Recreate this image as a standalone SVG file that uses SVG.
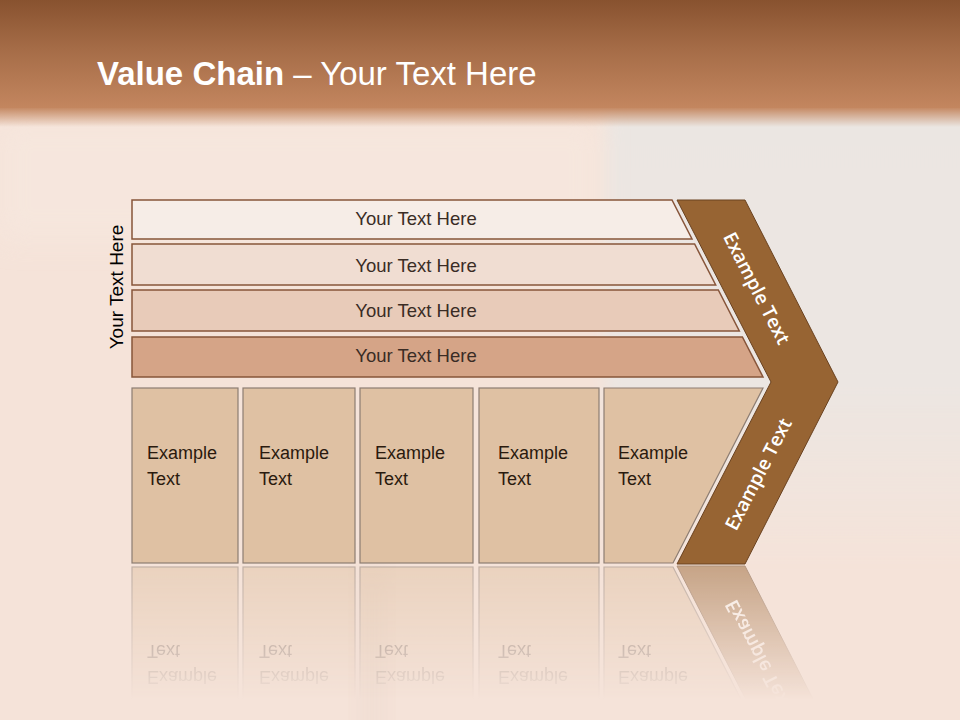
<svg xmlns="http://www.w3.org/2000/svg" width="960" height="720" viewBox="0 0 960 720">
  <defs>
    <linearGradient id="hdr" x1="0" y1="0" x2="0" y2="1">
      <stop offset="0" stop-color="#88522f"/>
      <stop offset="0.45" stop-color="#a56c47"/>
      <stop offset="1" stop-color="#c3865f"/>
    </linearGradient>
    <linearGradient id="hdrFade" x1="0" y1="0" x2="0" y2="1">
      <stop offset="0" stop-color="#c3865f" stop-opacity="1"/>
      <stop offset="1" stop-color="#c3865f" stop-opacity="0"/>
    </linearGradient>
    <linearGradient id="greyFade" x1="0" y1="0" x2="0" y2="1">
      <stop offset="0" stop-color="#ebe6e2" stop-opacity="1"/>
      <stop offset="0.6" stop-color="#ece6e2" stop-opacity="1"/>
      <stop offset="1" stop-color="#ece6e2" stop-opacity="0"/>
    </linearGradient>
    <linearGradient id="reflFade" gradientUnits="userSpaceOnUse" x1="0" y1="565" x2="0" y2="700">
      <stop offset="0" stop-color="#fff" stop-opacity="0.5"/>
      <stop offset="1" stop-color="#fff" stop-opacity="0"/>
    </linearGradient>
    <mask id="reflMask" maskUnits="userSpaceOnUse" x="0" y="560" width="960" height="160">
      <rect x="0" y="560" width="960" height="160" fill="url(#reflFade)"/>
    </mask>
    <filter id="blur8" x="-20%" y="-20%" width="140%" height="140%">
      <feGaussianBlur stdDeviation="8"/>
    </filter>
    <filter id="blur14" x="-50%" y="-50%" width="200%" height="200%">
      <feGaussianBlur stdDeviation="14"/>
    </filter>
    <style>
      .bar { stroke: #87553a; stroke-width: 1.5; }
      .barTxt { font-family: "Liberation Sans", Arial, sans-serif; font-size: 18.5px; fill: #3a2c25; text-anchor: middle; }
      .box { fill: #dfc1a3; stroke: #8d7d72; stroke-width: 1.2; }
      .boxTxt { font-family: "Liberation Sans", Arial, sans-serif; font-size: 18px; fill: #2a1a0e; }
      .chev { fill: #976433; stroke: #6a4220; stroke-width: 1; }
      .chevTxt { font-family: "Open Sans", "Liberation Sans", sans-serif; font-weight: 600; font-size: 19px; fill: #ffffff; text-anchor: middle; dominant-baseline: central; }
      .title { font-family: "Liberation Sans", Arial, sans-serif; font-size: 33px; fill: #ffffff; }
    </style>
  </defs>

  <!-- background -->
  <rect x="0" y="0" width="960" height="720" fill="#f5e3d9"/>
  <rect x="605" y="100" width="380" height="470" fill="url(#greyFade)" filter="url(#blur8)"/>
  <rect x="0" y="120" width="600" height="120" fill="#f7e9e0" opacity="0.6" filter="url(#blur14)"/>
  <rect x="360" y="560" width="24" height="200" fill="#d9c2b4" opacity="0.18" filter="url(#blur14)"/>

  <!-- header -->
  <rect x="0" y="0" width="960" height="108" fill="url(#hdr)"/>
  <rect x="0" y="107" width="960" height="20" fill="url(#hdrFade)"/>
  <text class="title" x="97" y="85"><tspan font-weight="bold">Value Chain</tspan> – Your Text Here</text>

  <!-- side label -->
  <text transform="translate(123,287) rotate(-90)" font-family="'Liberation Sans', Arial, sans-serif" font-size="19" fill="#000000" text-anchor="middle">Your Text Here</text>

  <g id="connectors"/>

  <!-- bars -->
  <g id="bar1">
    <polygon class="bar" fill="#f6ede7" points="132,200 672,200 692,239 132,239"/>
    <text class="barTxt" x="416" y="225">Your Text Here</text>
  </g>
  <g id="bar2">
    <polygon class="bar" fill="#f0ddd2" points="132,244 694.6,244 715.7,285 132,285"/>
    <text class="barTxt" x="416" y="272">Your Text Here</text>
  </g>
  <g id="bar3">
    <polygon class="bar" fill="#e8cbb9" points="132,290 718.3,290 739.3,331 132,331"/>
    <text class="barTxt" x="416" y="317">Your Text Here</text>
  </g>
  <g id="bar4">
    <polygon class="bar" fill="#d5a487" points="132,337 742.4,337 763,377 132,377"/>
    <text class="barTxt" x="416" y="362">Your Text Here</text>
  </g>

  <!-- boxes -->
  <g id="box1">
    <rect class="box" x="132" y="388" width="106" height="175"/>
    <text class="boxTxt" x="147" y="459">Example</text>
    <text class="boxTxt" x="147" y="485">Text</text>
  </g>
  <g id="box2">
    <rect class="box" x="243" y="388" width="112" height="175"/>
    <text class="boxTxt" x="259" y="459">Example</text>
    <text class="boxTxt" x="259" y="485">Text</text>
  </g>
  <g id="box3">
    <rect class="box" x="360" y="388" width="113" height="175"/>
    <text class="boxTxt" x="375" y="459">Example</text>
    <text class="boxTxt" x="375" y="485">Text</text>
  </g>
  <g id="box4">
    <rect class="box" x="479" y="388" width="120" height="175"/>
    <text class="boxTxt" x="498" y="459">Example</text>
    <text class="boxTxt" x="498" y="485">Text</text>
  </g>
  <g id="box5">
    <polygon class="box" points="604,388 763,388 673,563 604,563"/>
    <text class="boxTxt" x="618" y="459">Example</text>
    <text class="boxTxt" x="618" y="485">Text</text>
  </g>

  <!-- chevron -->
  <g id="chevron">
    <polygon class="chev" points="677,200 745,200 838,382 745,564 677,564 771,382"/>
    <text class="chevTxt" transform="translate(757,288) rotate(62.8)">Example Text</text>
    <text class="chevTxt" transform="translate(758,474) rotate(-62.8)">Example Text</text>
  </g>

  <!-- reflection -->
  <g id="reflection" mask="url(#reflMask)">
    <g transform="translate(0,1130) scale(1,-1)">
      <rect class="box" x="132" y="388" width="106" height="175"/>
      <rect class="box" x="243" y="388" width="112" height="175"/>
      <rect class="box" x="360" y="388" width="113" height="175"/>
      <rect class="box" x="479" y="388" width="120" height="175"/>
      <polygon class="box" points="604,388 763,388 673,563 604,563"/>
      <text class="boxTxt" x="147" y="459">Example</text>
      <text class="boxTxt" x="147" y="485">Text</text>
      <text class="boxTxt" x="259" y="459">Example</text>
      <text class="boxTxt" x="259" y="485">Text</text>
      <text class="boxTxt" x="375" y="459">Example</text>
      <text class="boxTxt" x="375" y="485">Text</text>
      <text class="boxTxt" x="498" y="459">Example</text>
      <text class="boxTxt" x="498" y="485">Text</text>
      <text class="boxTxt" x="618" y="459">Example</text>
      <text class="boxTxt" x="618" y="485">Text</text>
      <polygon class="chev" points="677,564 745,564 838,382 771,382"/>
      <text class="chevTxt" transform="translate(758,474) rotate(-62.8)">Example Text</text>
    </g>
  </g>
</svg>
